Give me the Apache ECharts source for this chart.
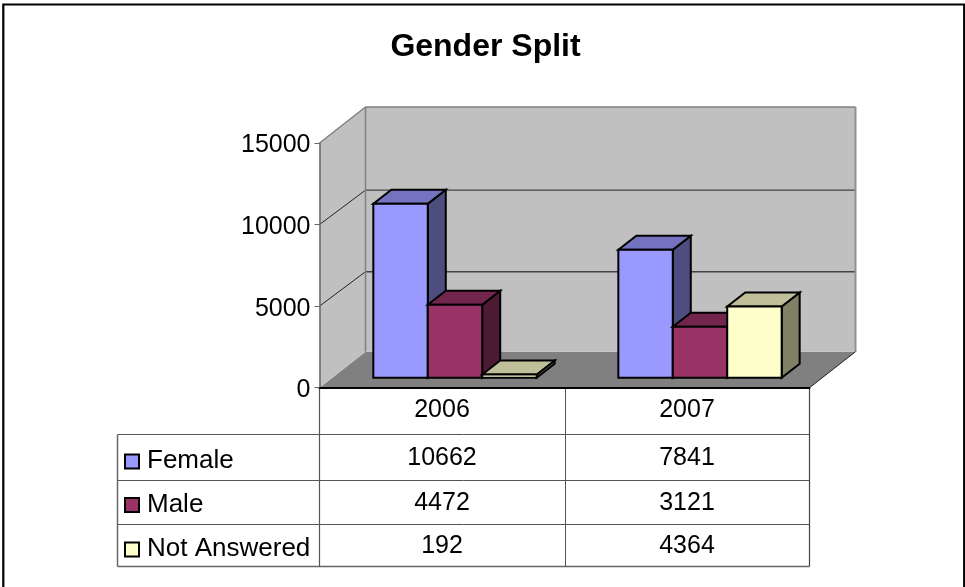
<!DOCTYPE html>
<html><head><meta charset="utf-8">
<style>html,body{margin:0;padding:0;background:#fff}#c{width:965px;height:587px}</style>
<script src="https://cdn.jsdelivr.net/npm/echarts@6/dist/echarts.min.js"></script>
</head><body><div id="c"></div>
<script>
var categories = ['2006', '2007'];
var female = [10662, 7841];
var male = [4472, 3121];
var notAnswered = [192, 4364];
var yTicks = [0, 5000, 10000, 15000];

var seriesDefs = [
  {name: 'Female', values: female, front: '#9999FF', top: '#7373BF', side: '#4D4D80'},
  {name: 'Male', values: male, front: '#993366', top: '#73264D', side: '#4D1A33'},
  {name: 'Not Answered', values: notAnswered, front: '#FFFFCC', top: '#BFBF99', side: '#808066'}
];
var FONT = '"Liberation Sans", Arial, sans-serif';
var FS = 25;
var wallD = [46, -36], barOff = [13, -10], barD = [18, -14];
var rowTextY = [458.5, 503.5, 546.5];
var legendTextY = [461, 505, 549];
var keyY = [454.5, 498, 542.5];
var tableLines = [[117,434,809,434,1,'#555'],[117,480,809,480,1,'#555'],[117,524,809,524,1,'#555'],[117,566,809,566,1.5,'#666'],
  [117,434,117,566,1.5,'#666'],[319,388,319,566,1.2,'#555'],[565,388,565,566,1,'#555'],[809,388,809,566,1.2,'#444']];

function poly(points, fill, stroke, lw) {
  return {type: 'polygon', shape: {points: points},
    style: {fill: fill, stroke: stroke, lineWidth: lw === undefined ? 2 : lw, lineJoin: 'miter'}};
}
function line(a, b, color, lw) {
  return {type: 'line', shape: {x1: a[0], y1: a[1], x2: b[0], y2: b[1]}, style: {stroke: color, lineWidth: lw}};
}
function wallItem(params, api) {
  var o = api.coord([0, 0]), t = api.coord([0, 15000]);
  var w = api.size([1, 0])[0] * 2;
  var L = o[0] - api.size([1, 0])[0] / 2, B = o[1], T = t[1], R = L + w;
  var dx = wallD[0], dy = wallD[1];
  var ch = [
    poly([[L, B], [L + dx, B + dy], [R + dx, B + dy], [R, B]], '#808080', 'none', 0),
    poly([[L + dx, T + dy], [R + dx, T + dy], [R + dx, B + dy], [L + dx, B + dy]], '#C0C0C0', 'none', 0),
    poly([[L, T], [L + dx, T + dy], [L + dx, B + dy], [L, B]], '#C0C0C0', 'none', 0)
  ];
  yTicks.slice(1, 3).forEach(function (v) {
    var y = api.coord([0, v])[1];
    ch.push(line([L, y], [L + dx, y + dy + 1.6], '#222', 1));
    ch.push(line([L + dx, y + dy + 1.6], [R + dx, y + dy + 1.6], '#444', 1.3));
  });
  ch.push(line([L, T], [L + dx, T + dy], '#808080', 1.5));
  ch.push(line([L + dx, T + dy], [R + dx, T + dy], '#808080', 1.5));
  ch.push(line([R + dx, T + dy], [R + dx, B + dy], '#909090', 2));
  ch.push(line([L + dx, T + dy], [L + dx, B + dy], '#808080', 1.5));
  ch.push(line([R, B], [R + dx, B + dy], '#222', 1));
  return {type: 'group', children: ch};
}
function barItem(def, idx) {
  return function (params, api) {
    var c = api.value(0), v = api.value(1);
    var band = api.size([1, 0])[0], bw = band / 4.5;
    var base = api.coord([c, 0]), top = api.coord([c, v]);
    var x0 = base[0] - bw * 1.5 + bw * idx + barOff[0], x1 = x0 + bw;
    var yb = base[1] + barOff[1], yt = top[1] + barOff[1];
    var dx = barD[0], dy = barD[1];
    return {type: 'group', children: [
      poly([[x1, yt], [x1 + dx, yt + dy], [x1 + dx, yb + dy], [x1, yb]], def.side, '#000', 2),
      poly([[x0, yt], [x0 + dx, yt + dy], [x1 + dx, yt + dy], [x1, yt]], def.top, '#000', 2),
      poly([[x0, yt], [x1, yt], [x1, yb], [x0, yb]], def.front, '#000', 2)
    ]};
  };
}
function cellItem(row) {
  return function (params, api) {
    var x = api.coord([api.value(0), 0])[0];
    return {type: 'text', style: {x: x, y: rowTextY[row], text: String(api.value(1)), fill: '#000',
      font: FS + 'px ' + FONT, textAlign: 'center', textVerticalAlign: 'middle'}};
  };
}
var series = [{
  type: 'custom', name: 'walls', silent: true, clip: false, z: 1, renderItem: wallItem,
  data: [[0, 0]], encode: {x: 0, y: 1}
}];
seriesDefs.forEach(function (d, i) {
  var data = d.values.map(function (v, k) { return [k, v]; });
  series.push({type: 'custom', name: d.name, clip: false, z: 2, renderItem: barItem(d, i), data: data, encode: {x: 0, y: 1}});
  series.push({type: 'custom', name: d.name + ' table', silent: true, clip: false, z: 5, renderItem: cellItem(i), data: data, encode: {x: 0, y: 1}});
});
var graphic = [
  {type: 'polyline', shape: {points: [[3.3, 587], [3.3, 4.5], [964.2, 4.5], [964.2, 587]]}, style: {fill: 'none', stroke: '#000', lineWidth: 2.2}, z: 0}
];
tableLines.forEach(function (l) {
  graphic.push({type: 'line', shape: {x1: l[0] + .5, y1: l[1] + .5, x2: l[2] + .5, y2: l[3] + .5}, style: {stroke: l[5], lineWidth: l[4]}, z: 3});
});
seriesDefs.forEach(function (d, i) {
  graphic.push({type: 'rect', shape: {x: 125, y: keyY[i], width: 14, height: 14}, style: {fill: d.front, stroke: '#000', lineWidth: 2}, z: 4});
  graphic.push({type: 'text', style: {x: 147, y: legendTextY[i], text: d.name, fill: '#000', font: '26px ' + FONT, textAlign: 'left', textVerticalAlign: 'middle'}, z: 4});
});
var chart = echarts.init(document.getElementById('c'), null, {renderer: 'canvas'});
chart.setOption({
  animation: false,
  backgroundColor: '#fff',
  title: {text: 'Gender Split', left: 480.5, top: 26, textAlign: 'center',
    textStyle: {fontFamily: FONT, fontSize: 32, fontWeight: 'bold', color: '#000'}},
  grid: {left: 319.5, top: 143, width: 490, height: 244.7, containLabel: false},
  xAxis: {type: 'category', data: categories, boundaryGap: true,
    axisLine: {lineStyle: {color: '#000', width: 2}}, axisTick: {show: false},
    axisLabel: {color: '#000', fontFamily: FONT, fontSize: FS, margin: 10}, z: 3},
  yAxis: {type: 'value', min: 0, max: 15000, interval: 5000,
    axisLine: {show: true, lineStyle: {color: '#666', width: 1.5}},
    axisTick: {show: true, length: 5, lineStyle: {color: '#666', width: 1}},
    axisLabel: {color: '#000', fontFamily: FONT, fontSize: FS, margin: 9,
      formatter: function (v) { return '{n|' + v + '}'; },
      rich: {n: {fontFamily: FONT, fontSize: FS, color: '#000', padding: [5, 0, 0, 0]}}},
    splitLine: {show: false}, z: 3},
  series: series,
  graphic: graphic
});
</script></body></html>
